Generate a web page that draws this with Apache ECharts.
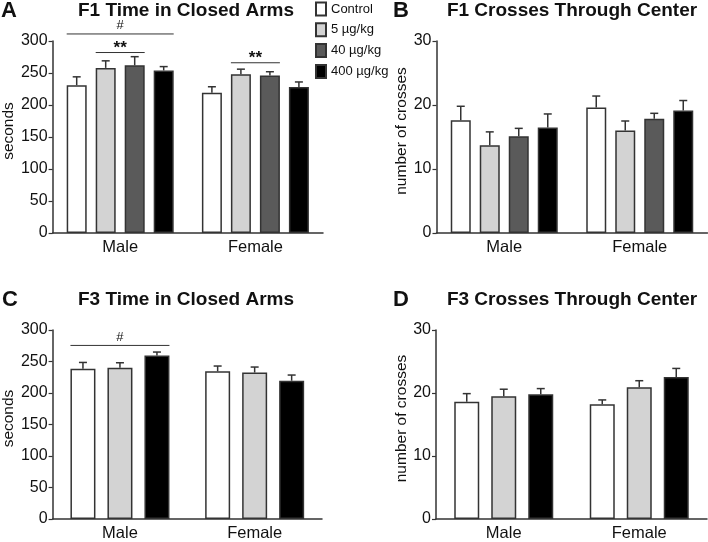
<!DOCTYPE html>
<html>
<head>
<meta charset="utf-8">
<script src="https://cdn.jsdelivr.net/npm/echarts@6/dist/echarts.min.js"></script>
<style>
  html, body { margin: 0; padding: 0; background: #fff; }
  #main { width: 708px; height: 542px; }
</style>
</head>
<body>
<div id="main"></div>
<script>
// categories
const groups = ['Male', 'Female'];
const dosesF1 = ['Control', '5 µg/kg', '40 µg/kg', '400 µg/kg'];
const dosesF3 = ['Control', '5 µg/kg', '400 µg/kg'];

// F1 time in closed arms (seconds), one row per dose: [male, female]
const f1TimeMean = [[231, 219], [258, 248], [262, 246], [254, 228]];
const f1TimeErr = [[13, 9.5], [11, 8], [13.5, 6], [6, 8]];
// F1 crosses through center
const f1CrossMean = [[17.6, 19.6], [13.7, 16.0], [15.1, 17.85], [16.5, 19.15]];
const f1CrossErr = [[2.2, 1.8], [2.1, 1.5], [1.25, 0.85], [2.1, 1.55]];
// F3 time in closed arms
const f3TimeMean = [[238.5, 234.5], [240, 232.5], [259.5, 219.5]];
const f3TimeErr = [[10, 8.3], [8, 8.7], [5.5, 9]];
// F3 crosses through center
const f3CrossMean = [[18.6, 18.2], [19.5, 20.9], [19.8, 22.55]];
const f3CrossErr = [[1.3, 0.7], [1.1, 1.05], [0.9, 1.35]];

// significance marks: [group, first bar, last bar, y value, label]
const f1TimeSig = [[0, 0, 3, 311, '#'], [0, 1, 2, 282, '**'], [1, 1, 2, 266, '**']];
const f3TimeSig = [[0, 0, 2, 275.5, '#']];

// tick labels
const timeTicks = [0, 50, 100, 150, 200, 250, 300];
const crossTicks = [0, 10, 20, 30];

const colorOf = {
  'Control': '#ffffff',
  '5 µg/kg': '#d3d3d3',
  '40 µg/kg': '#5a5a5a',
  '400 µg/kg': '#000000'
};
const font = "'Liberation Sans', Arial, Helvetica, sans-serif";
const edge = '#333333';

// panel layout
const panels = [
  { grid: { left: 51, top: 41, width: 272, height: 192 }, doses: dosesF1, mean: f1TimeMean, err: f1TimeErr,
    ticks: timeTicks, yName: 'seconds', nameGap: 35, barW: 20, gap: 9, sig: f1TimeSig },
  { grid: { left: 436.5, top: 41, width: 271, height: 192 }, doses: dosesF1, mean: f1CrossMean, err: f1CrossErr,
    ticks: crossTicks, yName: 'number of crosses', nameGap: 25, barW: 20, gap: 9, sig: [] },
  { grid: { left: 51, top: 330, width: 271, height: 192 }, doses: dosesF3, mean: f3TimeMean, err: f3TimeErr,
    ticks: timeTicks, yName: 'seconds', nameGap: 35, barW: 25, gap: 12, sig: f3TimeSig },
  { grid: { left: 436, top: 330, width: 271, height: 192 }, doses: dosesF3, mean: f3CrossMean, err: f3CrossErr,
    ticks: crossTicks, yName: 'number of crosses', nameGap: 25, barW: 25, gap: 12, sig: [] }
];

const barOffset = (p, i) => (i - (p.doses.length - 1) / 2) * (p.barW + p.gap);

const grids = [], xAxes = [], yAxes = [], series = [];
panels.forEach((p, k) => {
  grids.push(p.grid);
  xAxes.push({
    type: 'category', gridIndex: k, data: groups,
    axisLine: { lineStyle: { color: edge, width: 1.5 } },
    axisTick: { alignWithLabel: true, length: 3, lineStyle: { color: edge, width: 1.2 } },
    axisLabel: { color: '#111', fontSize: 16.5, fontFamily: font, margin: 6 }
  });
  const top = p.ticks[p.ticks.length - 1];
  yAxes.push({
    type: 'value', gridIndex: k, min: p.ticks[0], max: top, interval: p.ticks[1] - p.ticks[0],
    name: p.yName, nameLocation: 'middle', nameGap: p.nameGap,
    nameTextStyle: { color: '#111', fontSize: 15.5, fontFamily: font, padding: [0, 0, 0, 12] },
    splitLine: { show: false },
    axisLine: { show: true, lineStyle: { color: edge, width: 1.5 } },
    axisTick: { show: true, length: 4, lineStyle: { color: edge, width: 1.2 } },
    axisLabel: { color: '#111', fontSize: 16, fontFamily: font, margin: 5 }
  });
  p.doses.forEach((d, i) => {
    series.push({
      name: d, type: 'bar', xAxisIndex: k, yAxisIndex: k,
      barWidth: p.barW, barGap: (p.gap / p.barW * 100) + '%',
      itemStyle: { color: colorOf[d], borderColor: edge, borderWidth: 1.5 },
      data: p.mean[i]
    });
  });
  // error bars (upper only)
  const errData = [];
  p.doses.forEach((d, i) => {
    groups.forEach((g, c) => errData.push([c, i, p.mean[i][c], p.err[i][c]]));
  });
  series.push({
    type: 'custom', xAxisIndex: k, yAxisIndex: k, silent: true, z: 3,
    data: errData,
    renderItem: (params, api) => {
      const cat = api.value(0), idx = api.value(1), m = api.value(2), e = api.value(3);
      const x = api.coord([cat, m])[0] + barOffset(p, idx);
      const y0 = api.coord([cat, m])[1];
      const y1 = api.coord([cat, m + e])[1];
      const st = { stroke: edge, lineWidth: 1.5 };
      return { type: 'group', children: [
        { type: 'line', shape: { x1: x, y1: y0, x2: x, y2: y1 }, style: st },
        { type: 'line', shape: { x1: x - 4, y1: y1, x2: x + 4, y2: y1 }, style: st }
      ] };
    }
  });
  if (p.sig.length) {
    series.push({
      type: 'custom', xAxisIndex: k, yAxisIndex: k, silent: true, z: 3,
      data: p.sig.map(s => s.slice(0, 4)),
      renderItem: (params, api) => {
        const s = p.sig[params.dataIndex];
        const cx = api.coord([s[0], s[3]])[0];
        const y = api.coord([s[0], s[3]])[1];
        const xa = cx + barOffset(p, s[1]) - p.barW / 2;
        const xb = cx + barOffset(p, s[2]) + p.barW / 2;
        const star = s[4] === '**';
        return { type: 'group', children: [
          { type: 'line', shape: { x1: xa, y1: y, x2: xb, y2: y }, style: { stroke: edge, lineWidth: 1 } },
          { type: 'text', x: (xa + xb) / 2, y: star ? y + 4 : y - 2,
            style: { text: s[4], fill: '#111', font: (star ? 'bold 17px ' : '13px ') + font,
              textAlign: 'center', textVerticalAlign: 'bottom' } }
        ] };
      }
    });
  }
});

const titleStyle = { color: '#111', fontSize: 19, fontWeight: 'bold', fontFamily: font };
const letterStyle = { color: '#111', fontSize: 22, fontWeight: 'bold', fontFamily: font };

const option = {
  animation: false,
  title: [
    { text: 'A', left: 1, top: 0, padding: 0, textStyle: letterStyle },
    { text: 'F1 Time in Closed Arms', left: 186, top: 1, padding: 0, textAlign: 'center', textStyle: titleStyle },
    { text: 'B', left: 393, top: 0, padding: 0, textStyle: letterStyle },
    { text: 'F1 Crosses Through Center', left: 572, top: 1, padding: 0, textAlign: 'center', textStyle: titleStyle },
    { text: 'C', left: 2, top: 289, padding: 0, textStyle: letterStyle },
    { text: 'F3 Time in Closed Arms', left: 186, top: 290, padding: 0, textAlign: 'center', textStyle: titleStyle },
    { text: 'D', left: 393, top: 289, padding: 0, textStyle: letterStyle },
    { text: 'F3 Crosses Through Center', left: 572, top: 290, padding: 0, textAlign: 'center', textStyle: titleStyle }
  ],
  legend: {
    data: dosesF1, orient: 'vertical', left: 315, top: 1.5, padding: 0,
    icon: 'rect', itemWidth: 10, itemHeight: 13, itemGap: 5.8,
    textStyle: { color: '#111', fontSize: 13, fontFamily: font, padding: [0, 0, 0, 0] },
    selectedMode: false
  },
  grid: grids,
  xAxis: xAxes,
  yAxis: yAxes,
  series: series
};

const chart = echarts.init(document.getElementById('main'));
chart.setOption(option);
</script>
</body>
</html>
